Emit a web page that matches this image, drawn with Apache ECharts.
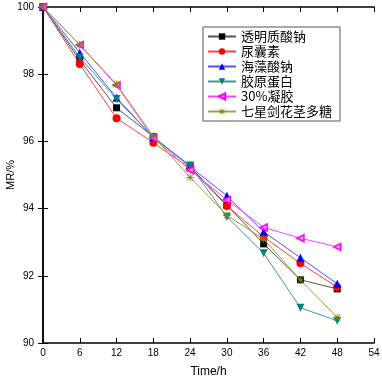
<!DOCTYPE html>
<html><head><meta charset="utf-8">
<script src="https://cdn.jsdelivr.net/npm/echarts@6/dist/echarts.min.js"></script>
<style>html,body{margin:0;padding:0;background:#fff}#c{width:382px;height:379px}</style>
</head><body><div id="c"></div>
<script>
const times = [0, 6, 12, 18, 24, 30, 36, 42, 48];
const seriesNames = ['透明质酸钠', '尿囊素', '海藻酸钠', '胶原蛋白', '30%凝胶', '七星剑花茎多糖'];
const hyaluronate = [100, 98.42, 97.00, 96.14, 95.25, 94.10, 92.95, 91.88, 91.61];
const allantoin   = [100, 98.30, 96.69, 95.96, 95.20, 94.08, 93.16, 92.37, 91.66];
const alginate    = [100, 98.64, 97.30, 96.12, 95.25, 94.38, 93.31, 92.54, 91.76];
const collagen    = [100, 98.50, 97.26, 96.12, 95.28, 93.76, 92.67, 91.05, 90.66];
const gel30       = [100, 98.87, 97.67, 96.10, 95.15, 94.26, 93.44, 93.12, 92.86];
const polysacch   = [100, 98.88, 97.70, 96.15, 94.93, 93.80, 93.09, 91.88, 90.76];
const xTicks = [0, 54, 6];
const yTicks = [90, 100, 2];

const star = 'path://M4.5 0 L5.5 0 L5.5 10 L4.5 10 Z M0 4.5 L10 4.5 L10 5.5 L0 5.5 Z M0.7 1.4 L1.4 0.7 L9.3 8.6 L8.6 9.3 Z M8.6 0.7 L9.3 1.4 L1.4 9.3 L0.7 8.6 Z';
const styles = [
  {data: hyaluronate, line: '#555555', color: '#000000', symbol: 'rect', size: 7},
  {data: allantoin, line: '#ff4040', color: '#ff0000', symbol: 'circle', size: 8},
  {data: alginate, line: '#5050ff', color: '#0000ff', symbol: 'triangle', size: 8},
  {data: collagen, line: '#3a9a9a', color: '#008080', symbol: 'triangle', size: 8, rotate: 180},
  {data: gel30, line: '#ff40ff', color: '#ff00ff', symbol: 'triangle', size: 7, rotate: 90, fill: '#ff80ff'},
  {data: polysacch, line: '#a0a040', color: '#808000', symbol: star, size: 8}
];

const chart = echarts.init(document.getElementById('c'), null, {renderer: 'canvas'});
const axisFont = {fontFamily: 'Liberation Sans, Arial', fontSize: 10, color: '#000'};
chart.setOption({
  animation: false,
  backgroundColor: '#fff',
  grid: {left: 43, right: 8, top: 7, bottom: 36, containLabel: false, outerBoundsMode: 'none'},
  legend: {
    orient: 'vertical', left: 203, top: 27,
    itemWidth: 28, itemHeight: 8, itemGap: 2,
    padding: [3, 8, 3, 4],
    borderColor: '#555', borderWidth: 1, backgroundColor: '#fff',
    textStyle: {fontFamily: 'Noto Sans CJK SC', fontSize: 13, color: '#000'},
    data: seriesNames
  },
  xAxis: [{
    type: 'value', min: xTicks[0], max: xTicks[1], interval: xTicks[2],
    name: 'Time/h', nameLocation: 'middle', nameGap: 23, nameMoveOverlap: false,
    nameTextStyle: {fontFamily: 'Liberation Sans, Arial', fontSize: 12, color: '#000'},
    axisLine: {lineStyle: {color: '#000', width: 1.5}},
    axisTick: {inside: true, length: 5, lineStyle: {color: '#000'}},
    axisLabel: Object.assign({margin: 5}, axisFont),
    splitLine: {show: false}
  }, {
    type: 'value', position: 'top', min: xTicks[0], max: xTicks[1], interval: xTicks[2],
    axisLine: {show: true, lineStyle: {color: '#000', width: 1.5}},
    axisTick: {show: true, inside: true, length: 5, lineStyle: {color: '#000'}},
    axisLabel: {show: false}, splitLine: {show: false}
  }],
  yAxis: [{
    type: 'value', min: yTicks[0], max: yTicks[1], interval: yTicks[2],
    name: 'MR/%', nameLocation: 'middle', nameGap: 27, nameRotate: 90, nameMoveOverlap: false,
    nameTextStyle: {fontFamily: 'Liberation Sans, Arial', fontSize: 11, color: '#000'},
    axisLine: {show: true, lineStyle: {color: '#000', width: 1.5}},
    axisTick: {show: true, inside: true, length: 5, lineStyle: {color: '#000'}},
    axisLabel: Object.assign({margin: 9}, axisFont),
    splitLine: {show: false}
  }, {
    type: 'value', position: 'right', min: yTicks[0], max: yTicks[1], interval: yTicks[2],
    axisLine: {show: true, lineStyle: {color: '#000', width: 1.5}},
    axisTick: {show: true, inside: true, length: 5, lineStyle: {color: '#000'}},
    axisLabel: {show: false}, splitLine: {show: false}
  }],
  series: styles.map((s, i) => ({
    name: seriesNames[i], type: 'line',
    data: times.map((t, j) => [t, s.data[j]]),
    symbol: s.symbol, symbolSize: s.size, symbolRotate: s.rotate || 0,
    showAllSymbol: true,
    lineStyle: {color: s.line, width: 1},
    itemStyle: {color: s.fill || s.color, borderColor: s.color, borderWidth: s.fill ? 1.5 : 0},
    z: 2 + i
  }))
});
</script></body></html>
